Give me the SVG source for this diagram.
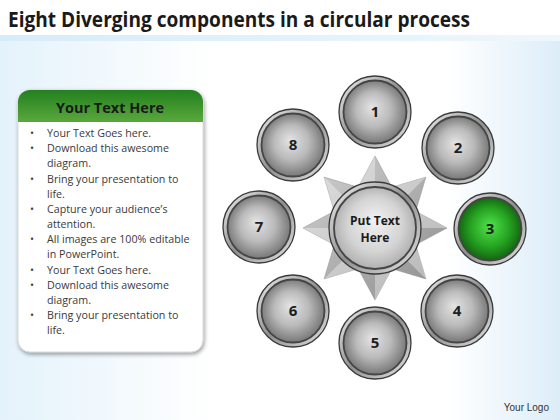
<svg xmlns="http://www.w3.org/2000/svg" width="560" height="420" viewBox="0 0 560 420">
<defs>
<linearGradient id="bg" x1="0" y1="0" x2="1" y2="0">
<stop offset="0" stop-color="#e4f2fb"/><stop offset="0.38" stop-color="#ffffff"/><stop offset="0.8" stop-color="#ffffff"/><stop offset="1" stop-color="#dcedf8"/>
</linearGradient>
<linearGradient id="band" x1="0" y1="0" x2="1" y2="0">
<stop offset="0" stop-color="#d6ecf8"/><stop offset="1" stop-color="#eef7fc"/>
</linearGradient>
<linearGradient id="hdr" x1="0" y1="0" x2="0" y2="1">
<stop offset="0" stop-color="#23801f"/><stop offset="1" stop-color="#5aa83c"/>
</linearGradient>
<radialGradient id="ball" cx="0.5" cy="0.5" r="0.55" fx="0.45" fy="0.42">
<stop offset="0" stop-color="#e4e4e4"/><stop offset="0.5" stop-color="#bababa"/><stop offset="1" stop-color="#6c6c6c"/>
</radialGradient>
<radialGradient id="gball" cx="0.5" cy="0.5" r="0.55" fx="0.5" fy="0.45">
<stop offset="0" stop-color="#52e24c"/><stop offset="0.55" stop-color="#26a422"/><stop offset="1" stop-color="#10580d"/>
</radialGradient>
<radialGradient id="cball" cx="0.5" cy="0.5" r="0.55" fx="0.5" fy="0.4">
<stop offset="0" stop-color="#f2f2f2"/><stop offset="0.6" stop-color="#d4d4d4"/><stop offset="1" stop-color="#a8a8a8"/>
</radialGradient>
<linearGradient id="ring" x1="0" y1="0" x2="1" y2="1">
<stop offset="0" stop-color="#f4f4f4"/><stop offset="0.5" stop-color="#8e8e8e"/><stop offset="1" stop-color="#e8e8e8"/>
</linearGradient>
<linearGradient id="star" x1="0" y1="0" x2="1" y2="1">
<stop offset="0" stop-color="#d2d2d2"/><stop offset="1" stop-color="#8c8c8c"/>
</linearGradient>
<filter id="sh" x="-10%" y="-10%" width="130%" height="130%">
<feGaussianBlur in="SourceAlpha" stdDeviation="2"/><feOffset dx="1" dy="2"/><feComponentTransfer><feFuncA type="linear" slope="0.4"/></feComponentTransfer>
<feMerge><feMergeNode/><feMergeNode in="SourceGraphic"/></feMerge>
</filter>
</defs>
<style>
.t{font-family:"Liberation Sans",Arial,sans-serif}
.b{font-family:"Open Sans","Liberation Sans",sans-serif;font-weight:bold;fill:#1a1a1a}
.bul{font-family:"Open Sans","Liberation Sans",sans-serif;font-size:10.7px;fill:#3a3a3a}
.num{font-family:"Open Sans","Liberation Sans",sans-serif;font-weight:bold;font-size:15px;fill:#1e1e1e;text-anchor:middle}
.rg{fill:url(#ring);stroke:#3a3a3a;stroke-width:1.3}
.in{stroke:#454545;stroke-width:1.8}
</style>
<rect width="560" height="420" fill="url(#bg)"/>
<rect x="0" y="35" width="560" height="6" fill="url(#band)"/>
<rect x="0" y="0" width="560" height="35" fill="#ffffff"/>
<text class="b" x="8" y="27" font-size="21" textLength="462" lengthAdjust="spacingAndGlyphs">Eight Diverging components in a circular process</text>

<g id="panel">
<rect x="18" y="90" width="185" height="262" rx="12" fill="#ffffff" stroke="#d0d0d0" stroke-width="0.8" filter="url(#sh)"/>
<path d="M18,122 V102 A12,12 0 0 1 30,90 H191 A12,12 0 0 1 203,102 V122 Z" fill="url(#hdr)"/>
<text class="b" x="110" y="113" font-size="14.5" text-anchor="middle">Your Text Here</text>
<g class="bul">
<text x="30" y="137">•</text><text x="47" y="137">Your Text Goes here.</text>
<text x="30" y="152">•</text><text x="47" y="152">Download this awesome</text>
<text x="47" y="167">diagram.</text>
<text x="30" y="183">•</text><text x="47" y="183">Bring your presentation to</text>
<text x="47" y="198">life.</text>
<text x="30" y="213">•</text><text x="47" y="213">Capture your audience’s</text>
<text x="47" y="228">attention.</text>
<text x="30" y="243">•</text><text x="47" y="243">All images are 100% editable</text>
<text x="47" y="258">in PowerPoint.</text>
<text x="30" y="274">•</text><text x="47" y="274">Your Text Goes here.</text>
<text x="30" y="289">•</text><text x="47" y="289">Download this awesome</text>
<text x="47" y="304">diagram.</text>
<text x="30" y="319">•</text><text x="47" y="319">Bring your presentation to</text>
<text x="47" y="334">life.</text>
</g>
</g>

<g id="connectors">
<polygon points="375,156 391.8,187.3 425.9,177.1 415.7,211.2 447,228 415.7,244.8 425.9,278.9 391.8,268.7 375,300 358.2,268.7 324.1,278.9 334.3,244.8 303,228 334.3,211.2 324.1,177.1 358.2,187.3" fill="url(#star)" stroke="#9a9a9a" stroke-width="0.6"/>
<path d="M375,156 L358.2,187.3 L375,228Z M425.9,177.1 L391.8,187.3 L375,228Z M447,228 L415.7,211.2 L375,228Z M425.9,278.9 L415.7,244.8 L375,228Z M375,300 L391.8,268.7 L375,228Z M324.1,278.9 L358.2,268.7 L375,228Z M303,228 L334.3,244.8 L375,228Z M324.1,177.1 L334.3,211.2 L375,228Z" fill="#ffffff" opacity="0.35"/>
</g>

<g id="center">
<circle cx="375" cy="228" r="46" class="rg"/>
<circle cx="375" cy="228" r="41" fill="url(#cball)" class="in"/>
<text class="b" x="375" y="225" font-size="12" text-anchor="middle">Put Text</text>
<text class="b" x="375" y="242" font-size="12" text-anchor="middle">Here</text>
</g>

<g id="n1"><circle cx="375" cy="112" r="36" class="rg"/><circle cx="375" cy="112" r="31.5" fill="url(#ball)" class="in"/><text class="num" x="375" y="117">1</text></g>
<g id="n2"><circle cx="458" cy="148" r="36" class="rg"/><circle cx="458" cy="148" r="31.5" fill="url(#ball)" class="in"/><text class="num" x="458" y="153">2</text></g>
<g id="n3"><circle cx="490" cy="229" r="36" class="rg"/><circle cx="490" cy="229" r="31.5" fill="url(#gball)" class="in"/><text class="num" x="490" y="234">3</text></g>
<g id="n4"><circle cx="457" cy="311" r="36" class="rg"/><circle cx="457" cy="311" r="31.5" fill="url(#ball)" class="in"/><text class="num" x="457" y="316">4</text></g>
<g id="n5"><circle cx="375" cy="343" r="36" class="rg"/><circle cx="375" cy="343" r="31.5" fill="url(#ball)" class="in"/><text class="num" x="375" y="348">5</text></g>
<g id="n6"><circle cx="293" cy="311" r="36" class="rg"/><circle cx="293" cy="311" r="31.5" fill="url(#ball)" class="in"/><text class="num" x="293" y="316">6</text></g>
<g id="n7"><circle cx="259" cy="227" r="36" class="rg"/><circle cx="259" cy="227" r="31.5" fill="url(#ball)" class="in"/><text class="num" x="259" y="232">7</text></g>
<g id="n8"><circle cx="293" cy="145" r="36" class="rg"/><circle cx="293" cy="145" r="31.5" fill="url(#ball)" class="in"/><text class="num" x="293" y="150">8</text></g>

<text class="t" x="549" y="411" font-size="10" fill="#333" text-anchor="end">Your Logo</text>
</svg>
